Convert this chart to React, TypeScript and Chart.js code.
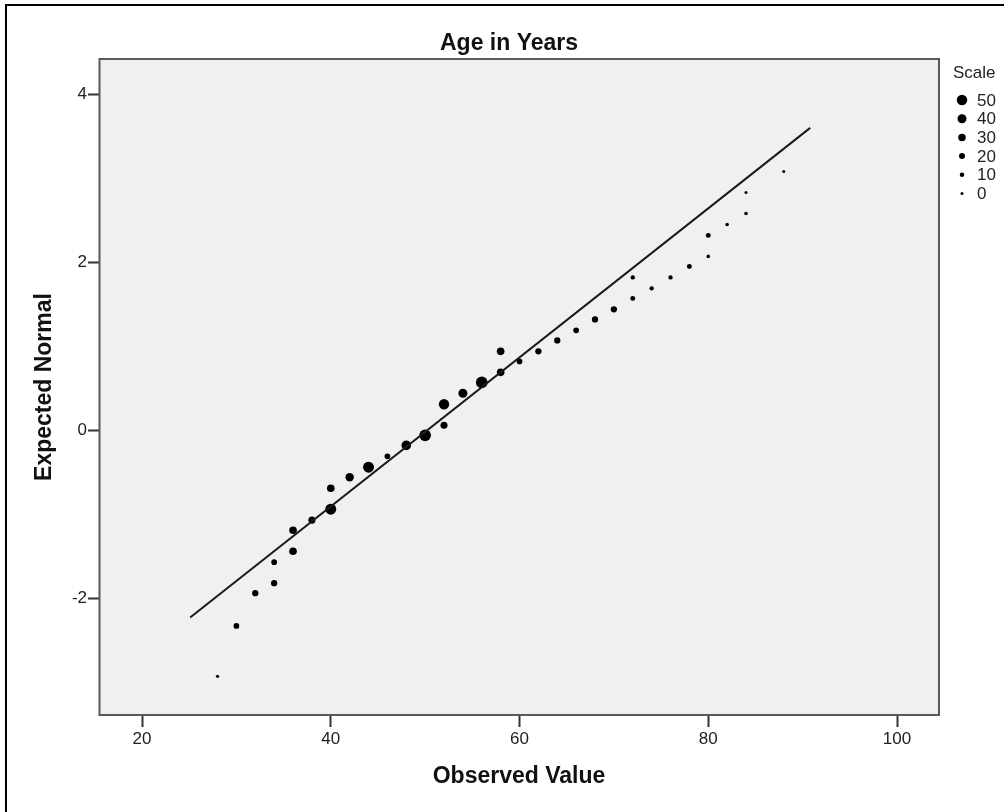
import React, { useEffect, useRef } from "react";
import { Chart, registerables } from "chart.js";

Chart.register(...registerables);

// Observed ages and their expected normal quantiles
const observed = [28, 30, 32, 34, 34, 36, 36, 38, 40, 40, 42, 44, 46, 48, 50, 52, 52, 54, 56, 58, 58, 60, 62, 64, 66, 68, 70, 72, 72, 74, 76, 78, 80, 80, 82, 84, 84, 88];
const expected = [-2.93, -2.33, -1.94, -1.82, -1.57, -1.44, -1.19, -1.07, -0.94, -0.69, -0.56, -0.44, -0.31, -0.18, -0.06, 0.06, 0.31, 0.44, 0.57, 0.69, 0.94, 0.82, 0.94, 1.07, 1.19, 1.32, 1.44, 1.57, 1.82, 1.69, 1.82, 1.95, 2.07, 2.32, 2.45, 2.58, 2.83, 3.08];
// Point size variable ("Scale")
const weights = [2, 18, 22, 22, 18, 31, 31, 27, 53, 31, 36, 53, 18, 44, 58, 27, 49, 40, 58, 31, 31, 18, 22, 22, 18, 22, 22, 13, 9, 9, 9, 13, 4, 13, 4, 4, 0, 0];

// Reference line endpoints
const lineX = [25.1, 90.8];
const lineY = [-2.23, 3.6];

// Axis ranges and ticks
const xRange = [15.44, 104.45];
const yRange = [-3.39, 4.42];
const xTicks = [20, 40, 60, 80, 100];
const yTicks = [-2, 0, 2, 4];

// Size legend levels
const scaleLevels = [50, 40, 30, 20, 10, 0];

const chartTitle = "Age in Years";
const xTitle = "Observed Value";
const yTitle = "Expected Normal";
const legendTitle = "Scale";

const FONT = "'Liberation Sans', Arial, sans-serif";

const radiusFor = (w: number) => 1.5 + 0.075 * w;

const framePlugin = {
  id: "spssFrame",
  beforeDraw(chart: any) {
    const { ctx, width, height, chartArea } = chart;
    ctx.save();
    ctx.fillStyle = "#ffffff";
    ctx.fillRect(0, 0, width, height);
    // outer border
    ctx.strokeStyle = "#000000";
    ctx.lineWidth = 2;
    ctx.beginPath();
    ctx.moveTo(6, height + 2);
    ctx.lineTo(6, 5);
    ctx.lineTo(width + 2, 5);
    ctx.stroke();
    // plot background
    ctx.fillStyle = "#f0f0f0";
    ctx.fillRect(chartArea.left, chartArea.top, chartArea.right - chartArea.left, chartArea.bottom - chartArea.top);
    ctx.restore();
  },
  beforeDatasetsDraw(chart: any) {
    const { ctx, chartArea } = chart;
    ctx.save();
    ctx.strokeStyle = "#595959";
    ctx.lineWidth = 2;
    ctx.strokeRect(chartArea.left + 0.5, chartArea.top, chartArea.right - chartArea.left - 0.5, chartArea.bottom - chartArea.top);
    ctx.restore();
  },
  afterDraw(chart: any) {
    const { ctx } = chart;
    ctx.save();
    // chart title
    ctx.fillStyle = "#111111";
    ctx.font = `bold 23px ${FONT}`;
    ctx.textAlign = "center";
    ctx.textBaseline = "middle";
    ctx.fillText(chartTitle, 509, 44);
    // size legend
    ctx.font = `17px ${FONT}`;
    ctx.textAlign = "left";
    ctx.fillStyle = "#222222";
    ctx.fillText(legendTitle, 953, 73);
    scaleLevels.forEach((lv, i) => {
      const cy = 100 + i * 18.7;
      ctx.fillStyle = "#000000";
      ctx.beginPath();
      ctx.arc(962, cy, radiusFor(lv), 0, Math.PI * 2);
      ctx.fill();
      ctx.fillStyle = "#222222";
      ctx.fillText(String(lv), 977, cy + 1);
    });
    ctx.restore();
  },
};

export default function App() {
  const canvasRef = useRef<HTMLCanvasElement | null>(null);

  useEffect(() => {
    const canvas = canvasRef.current;
    if (!canvas) return;

    const points = observed.map((x, i) => ({ x, y: expected[i] }));
    const linePts = lineX.map((x, i) => ({ x, y: lineY[i] }));

    const chart = new Chart(canvas, {
      type: "scatter",
      data: {
        datasets: [
          {
            label: "Reference",
            data: linePts,
            showLine: true,
            borderColor: "#1a1a1a",
            borderWidth: 2,
            pointRadius: 0,
            fill: false,
          },
          {
            label: yTitle,
            data: points,
            backgroundColor: "#000000",
            borderWidth: 0,
            pointRadius: weights.map(radiusFor),
            pointHoverRadius: weights.map(radiusFor),
          },
        ],
      },
      options: {
        responsive: false,
        animation: false,
        devicePixelRatio: 1,
        layout: { padding: { top: 59, right: 65, bottom: 0, left: 0 } },
        plugins: {
          legend: { display: false },
          tooltip: { enabled: false },
          title: { display: false },
        },
        scales: {
          x: {
            type: "linear",
            min: xRange[0],
            max: xRange[1],
            afterFit: (s: any) => {
              s.height = 97;
            },
            afterBuildTicks: (s: any) => {
              s.ticks = xTicks.map((v) => ({ value: v }));
            },
            grid: {
              drawOnChartArea: false,
              drawTicks: true,
              tickLength: 12,
              tickWidth: 2,
              tickColor: "#333333",
            },
            border: { display: false },
            ticks: {
              padding: 2,
              color: "#222222",
              autoSkip: false,
              maxRotation: 0,
              font: { family: FONT, size: 17 },
              callback: (v: any) => String(v),
            },
            title: {
              display: true,
              text: xTitle,
              color: "#111111",
              font: { family: FONT, size: 23, weight: "bold" },
              padding: { top: 0, bottom: 22 },
            },
          },
          y: {
            type: "linear",
            min: yRange[0],
            max: yRange[1],
            afterFit: (s: any) => {
              s.width = 99;
            },
            afterBuildTicks: (s: any) => {
              s.ticks = yTicks.map((v) => ({ value: v }));
            },
            grid: {
              drawOnChartArea: false,
              drawTicks: true,
              tickLength: 11,
              tickWidth: 2,
              tickColor: "#333333",
            },
            border: { display: false },
            ticks: {
              padding: 1,
              color: "#222222",
              autoSkip: false,
              font: { family: FONT, size: 17 },
              callback: (v: any) => String(v),
            },
            title: {
              display: true,
              text: yTitle,
              color: "#111111",
              font: { family: FONT, size: 23, weight: "bold" },
              padding: { top: 31, bottom: 0 },
            },
          },
        },
      },
      plugins: [framePlugin],
    });

    return () => chart.destroy();
  }, []);

  return (
    <div style={{ position: "absolute", left: 0, top: 0, width: 1004, height: 812 }}>
      <canvas ref={canvasRef} width={1004} height={812} style={{ display: "block" }} />
    </div>
  );
}
